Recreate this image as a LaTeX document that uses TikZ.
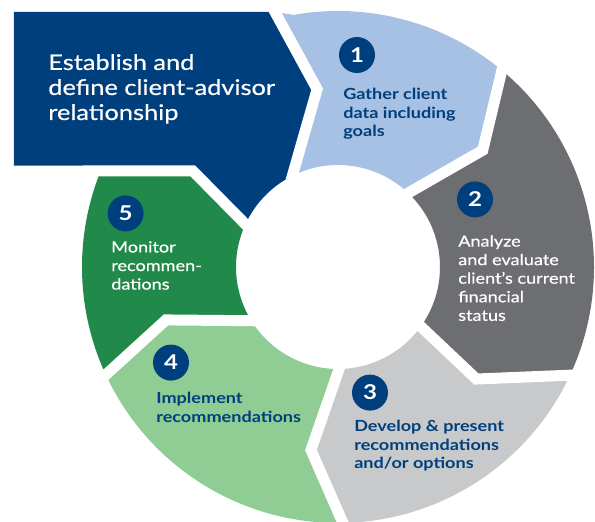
\documentclass[tikz,border=0pt]{standalone}
\usepackage{fontspec}
\setmainfont[FakeStretch=1.18]{Lato}
\newfontfamily\bookfont[FakeStretch=1.18,FakeBold=0.5]{Lato}

\definecolor{navy}{RGB}{0,63,125}
\definecolor{skyblue}{RGB}{166,193,227}
\definecolor{slate}{RGB}{109,110,113}
\definecolor{silver}{RGB}{200,201,203}
\definecolor{mint}{RGB}{144,205,149}
\definecolor{forest}{RGB}{33,138,74}

\begin{document}
\begin{tikzpicture}[
    gap/.style={
        draw=white, line width=7.8pt,
        line cap=rect, line join=miter
    },
    badge/.style={
        circle, fill=navy, text=white,
        minimum size=0.9cm, inner sep=0pt,
        font=\fontsize{14.5}{14.5}\selectfont\bfseries
    },
    darklabel/.style={
        anchor=north west, align=left, inner sep=0pt,
        text=navy,
        font=\fontsize{10.9}{13.2}\selectfont\bfseries
    },
    lightlabel/.style={
        anchor=north west, align=left, inner sep=0pt,
        text=white,
        font=\bookfont\fontsize{10.9}{13.2}\selectfont
    }
]

\useasboundingbox (-8.45,-6.35) rectangle (6.425,6.675);

% Chevron borders between the steps (inner / tip / outer)
\coordinate (b1-in)  at (116.6:2.55);
\coordinate (b1-tip) at (96.7:4.475);
\coordinate (b1-out) at (-1.575,6.375);
\coordinate (b2-in)  at (46.5:2.55);
\coordinate (b2-tip) at (38.9:4.65);
\coordinate (b2-out) at (50.2:6.4);
\coordinate (b3-in)  at (-35.7:2.55);
\coordinate (b3-tip) at (-39:4.45);
\coordinate (b3-out) at (-25:6.4);
\coordinate (b4-in)  at (-89.4:2.55);
\coordinate (b4-tip) at (-98.4:4.625);
\coordinate (b4-out) at (-88.9:6.4);
\coordinate (b5-in)  at (211.8:2.55);
\coordinate (b5-tip) at (197.1:4.5);
\coordinate (b5-out) at (204.9:6.4);
\coordinate (b6-in)  at (155.2:2.55);
\coordinate (b6-tip) at (146.5:4.35);
\coordinate (b6-out) at (158:6.4);
\coordinate (b6-end) at (-8.45,2.4);

% Relationship box (top left)
\fill[navy] (-8.1,6.375) -- (b1-out) -- (b1-tip) -- (b1-in)
    arc[start angle=116.6, end angle=155.2, radius=2.55]
    -- (b6-tip) -- (-8.1,2.4) -- cycle;

% Ring segments
\fill[skyblue] (b1-out) -- (100:6.4) arc[start angle=100, end angle=50.2, radius=6.4]
    -- (b2-tip) -- (b2-in) arc[start angle=46.5, end angle=116.6, radius=2.55]
    -- (b1-tip) -- cycle;
\fill[slate] (b2-out) arc[start angle=50.2, end angle=-25, radius=6.4]
    -- (b3-tip) -- (b3-in) arc[start angle=-35.7, end angle=46.5, radius=2.55]
    -- (b2-tip) -- cycle;
\fill[silver] (b3-out) arc[start angle=-25, end angle=-88.9, radius=6.4]
    -- (b4-tip) -- (b4-in) arc[start angle=-89.4, end angle=-35.7, radius=2.55]
    -- (b3-tip) -- cycle;
\fill[mint] (b4-out) arc[start angle=-88.9, end angle=-155.1, radius=6.4]
    -- (b5-tip) -- (b5-in) arc[start angle=-148.2, end angle=-89.4, radius=2.55]
    -- (b4-tip) -- cycle;
\fill[forest] (b5-out) arc[start angle=204.9, end angle=158, radius=6.4]
    -- (b6-tip) -- (b6-in) arc[start angle=155.2, end angle=211.8, radius=2.55]
    -- (b5-tip) -- cycle;

% White gaps
\draw[gap] (b1-in) -- (b1-tip) -- (b1-out);
\draw[gap] (b2-in) -- (b2-tip) -- (b2-out);
\draw[gap] (b3-in) -- (b3-tip) -- (b3-out);
\draw[gap] (b4-in) -- (b4-tip) -- (b4-out);
\draw[gap] (b5-in) -- (b5-tip) -- (b5-out);
\draw[gap] (b6-in) -- (b6-tip) -- (b6-end);

% Step numbers
\node[badge] (num1) at (0.475,5.3) {1};
\node[badge] (num2) at (3.425,1.69) {2};
\node[badge] (num3) at (0.8,-3.14) {3};
\node[badge] (num4) at (-4.175,-2.39) {4};
\node[badge] (num5) at (-5.31,1.34) {5};

% Texts
\node[lightlabel, font=\bookfont\fontsize{15.3}{17.8}\selectfont] (lblbox) at (-7.25,5.33)
    {Establish and\\define client-advisor\\relationship};
\node[darklabel] (lbl1) at (0.125,4.475) {Gather client\\data including\\goals};
\node[lightlabel] (lbl2) at (3.0,0.8) {Analyze\\and evaluate\\client’s current\\financial\\status};
\node[darklabel] (lbl3) at (0.4,-3.825) {Develop \& present\\recommendations\\and/or options};
\node[darklabel] (lbl4) at (-4.55,-3.125) {Implement\\recommendations};
\node[lightlabel] (lbl5) at (-5.675,0.65) {Monitor\\recommen-\\dations};

\end{tikzpicture}
\end{document}
